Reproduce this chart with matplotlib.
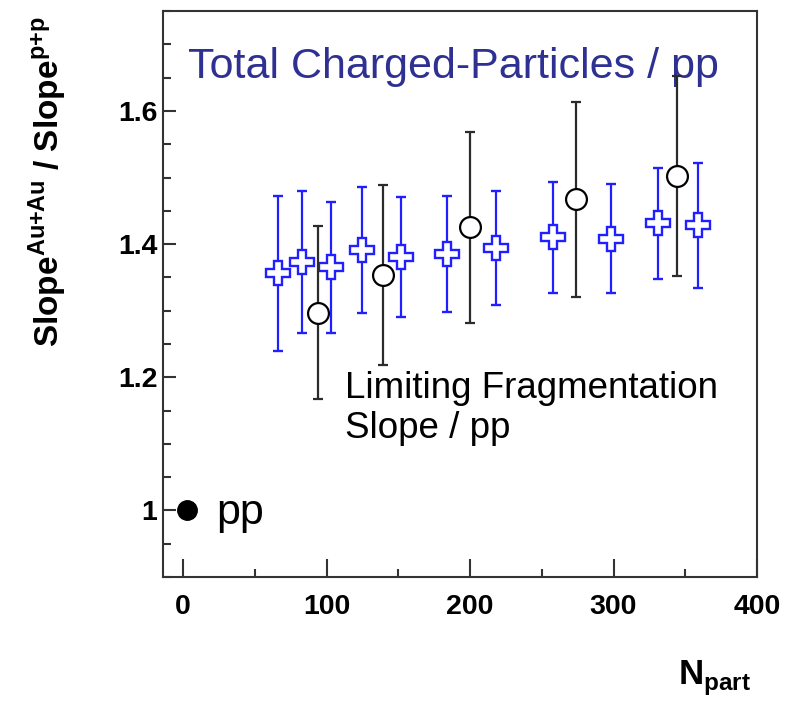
import matplotlib
matplotlib.use('Agg')
import matplotlib.pyplot as plt
from matplotlib.ticker import MultipleLocator, FuncFormatter

plt.rcParams['font.family'] = ['Liberation Sans', 'DejaVu Sans']
plt.rcParams['mathtext.fontset'] = 'custom'
plt.rcParams['mathtext.rm'] = 'Liberation Sans'
plt.rcParams['mathtext.bf'] = 'Liberation Sans:bold'

# total charged particles / pp (blue open crosses)
npart_total = [66, 83, 103, 125, 152, 184, 218, 258, 298, 331, 359]
ratio_total = [1.356, 1.373, 1.365, 1.391, 1.380, 1.385, 1.394, 1.410, 1.408, 1.431, 1.428]
err_total = [0.116, 0.106, 0.098, 0.095, 0.090, 0.087, 0.085, 0.083, 0.082, 0.084, 0.094]

# limiting fragmentation slope / pp (black open circles)
npart_lf = [94, 139, 200, 274, 344]
ratio_lf = [1.297, 1.353, 1.425, 1.467, 1.502]
err_lf = [0.130, 0.135, 0.143, 0.147, 0.150]

# pp reference
npart_pp = [2.6]
ratio_pp = [1.0]

fig = plt.figure(figsize=(7.92, 7.03), dpi=100)
ax = fig.add_axes([0.2058, 0.1792, 0.75, 0.8051])

ax.errorbar(npart_total, ratio_total, yerr=err_total, fmt='P', color='#1f1fff',
            mfc='white', mec='#1f1fff', ms=17, mew=1.7, elinewidth=1.6,
            capsize=3.6, capthick=1.6, zorder=3)
ax.errorbar(npart_lf, ratio_lf, yerr=err_lf, fmt='o', color='#2b2b2b',
            mfc='white', mec='black', ms=15, mew=1.6, elinewidth=1.6,
            capsize=3.6, capthick=1.6, zorder=4)
ax.plot(npart_pp, ratio_pp, 'o', color='black', ms=14, zorder=5)

ax.set_xlim(-14, 400)
ax.set_ylim(0.9, 1.75)

ax.xaxis.set_major_locator(MultipleLocator(100))
ax.xaxis.set_minor_locator(MultipleLocator(50))
ax.yaxis.set_major_locator(MultipleLocator(0.2))
ax.yaxis.set_minor_locator(MultipleLocator(0.05))
ax.yaxis.set_major_formatter(FuncFormatter(lambda v, p: '%g' % round(v, 2)))

ax.tick_params(which='both', direction='in', top=False, right=False,
               color='#333333', width=1.5)
ax.tick_params(axis='x', which='major', length=13, pad=12)
ax.tick_params(axis='x', which='minor', length=6)
ax.tick_params(axis='y', which='major', length=9, pad=4)
ax.tick_params(axis='y', which='minor', length=6)
for lab in ax.get_xticklabels() + ax.get_yticklabels():
    lab.set_fontsize(20.5)
    lab.set_fontweight('bold')

for s in ax.spines.values():
    s.set_color('#333333')
    s.set_linewidth(1.5)

ax.set_ylabel(r'Slope$^{\mathbf{Au{+}Au}}$ / Slope$^{\mathbf{p{+}p}}$',
              fontsize=24, fontweight='bold', loc='top')
ax.yaxis.set_label_coords(-0.158, 0.99)
ax.set_xlabel(r'N$_{\mathbf{part}}$', fontsize=25, fontweight='bold', loc='right')
ax.xaxis.set_label_coords(0.99, -0.145)

ax.text(0.042, 0.8816, 'Total Charged-Particles / pp', transform=ax.transAxes,
        fontsize=31, color='#2f3192', va='baseline', ha='left')
ax.text(0.306, 0.364, 'Limiting Fragmentation\nSlope / pp', transform=ax.transAxes,
        fontsize=26.5, color='black', va='top', ha='left')
ax.text(0.089, 0.094, 'pp', transform=ax.transAxes,
        fontsize=31, color='black', va='baseline', ha='left')

fig.savefig('out.png', dpi=100)
